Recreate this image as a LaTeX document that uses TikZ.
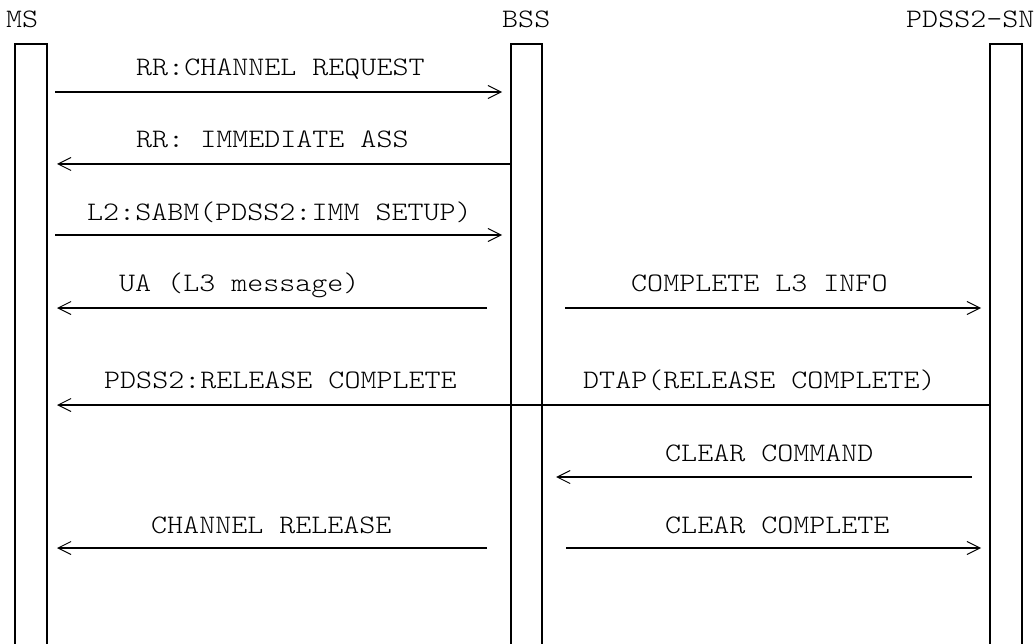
\documentclass[tikz,border=0pt]{standalone}
\usepackage{fontspec}
\newfontfamily\ttyfont{lmmonolt10-regular.otf}[FakeStretch=1.143]
\usetikzlibrary{arrows.meta}
\tikzset{
  life/.style={line width=1.6pt},
  msg/.style={line width=1.6pt,
    -{Straight Barb[length=0.1pt 0,width=0.1pt 0,line width=0.1pt 0,sep=0pt]
      Straight Barb[length=13pt 0,width=13pt 0,line width=1pt 0,sep=0pt]}},
  lbl/.style={anchor=base west,inner sep=0pt,
    font=\ttyfont\fontsize{26.7pt}{28pt}\selectfont}
}

\begin{document}
\begin{tikzpicture}[x=1pt,y=-1pt]
  \useasboundingbox (0,0) rectangle (1035,644);
  % heads and life lines
  \node[lbl] (ms) at (6,28) {MS};
  \node[lbl] (bss) at (502,28) {BSS};
  \node[lbl] (sn) at (906,28) {PDSS2-SN};
  \draw[life] (15,644) |- (47,44) -- (47,644);
  \draw[life] (511,644) |- (542,44) -- (542,644);
  \draw[life] (990,644) |- (1022,44) -- (1022,644);

  % MS <-> BSS
  \coordinate (a1) at (55,92);   \coordinate (b1) at (502,92);
  \coordinate (a2) at (511,164); \coordinate (b2) at (57,164);
  \coordinate (a3) at (55,235);  \coordinate (b3) at (502,235);
  \coordinate (a4) at (487,308); \coordinate (b4) at (57,308);
  \coordinate (a9) at (487,548); \coordinate (b9) at (57,548);
  % BSS <-> PDSS2-SN
  \coordinate (a5) at (565,308); \coordinate (b5) at (981,308);
  \coordinate (a6) at (990,405); \coordinate (b6) at (57,405);
  \coordinate (a8) at (972,477); \coordinate (b8) at (556,477);
  \coordinate (a10) at (566,548); \coordinate (b10) at (981,548);

  \node[lbl] (l1) at (136,76) {RR:CHANNEL REQUEST};
  \node[lbl] (l2) at (136,148) {RR: IMMEDIATE ASS};
  \node[lbl] (l3) at (87,221) {L2:SABM(PDSS2:IMM SETUP)};
  \node[lbl] (l4) at (119,291) {UA (L3 message)};
  \node[lbl] (l5) at (631,291) {COMPLETE L3 INFO};
  \node[lbl] (l6) at (104,388) {PDSS2:RELEASE COMPLETE};
  \node[lbl] (l7) at (583,388) {DTAP(RELEASE COMPLETE)};
  \node[lbl] (l8) at (665,461) {CLEAR COMMAND};
  \node[lbl] (l9) at (151,533) {CHANNEL RELEASE};
  \node[lbl] (l10) at (665,533) {CLEAR COMPLETE};

  \draw[msg] (a1) -- (b1);
  \draw[msg] (a2) -- (b2);
  \draw[msg] (a3) -- (b3);
  \draw[msg] (a4) -- (b4);
  \draw[msg] (a5) -- (b5);
  \draw[msg] (a6) -- (b6);
  \draw[msg] (a8) -- (b8);
  \draw[msg] (a9) -- (b9);
  \draw[msg] (a10) -- (b10);
\end{tikzpicture}
\end{document}
